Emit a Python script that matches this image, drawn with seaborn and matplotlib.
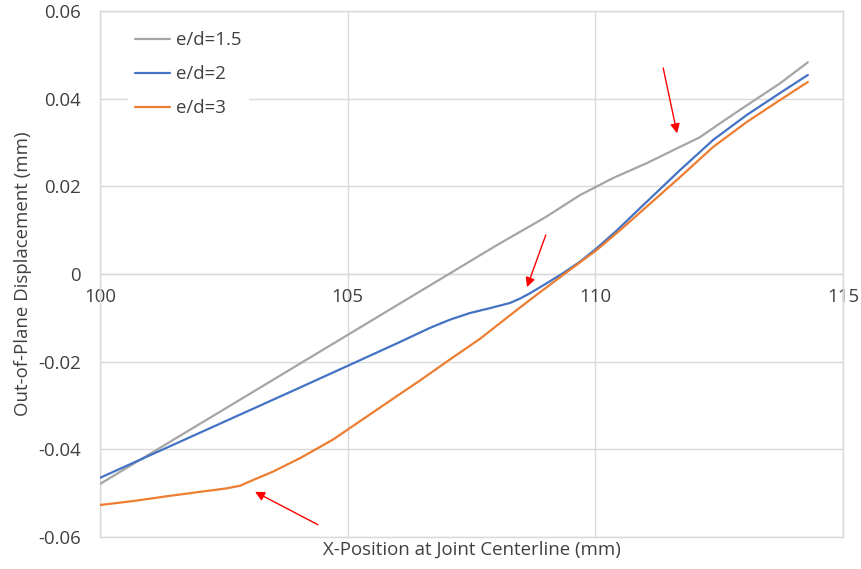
import matplotlib
matplotlib.use("Agg")
import matplotlib.pyplot as plt
from matplotlib.lines import Line2D
import seaborn as sns
import pandas as pd

# Out-of-plane displacement along the joint centerline for three edge distances
x_ed15 = [100, 102, 104, 106, 108, 109, 109.69, 110.36, 111.04, 111.71, 112.11,
          112.52, 113.06, 113.73, 114.29]
y_ed15 = [-0.0479, -0.0343, -0.0207, -0.0071, 0.0065, 0.0130, 0.0180, 0.0219,
          0.0253, 0.0290, 0.0312, 0.0344, 0.0385, 0.0435, 0.0483]

x_ed2 = [100, 102, 104, 106, 106.66, 107.07, 107.47, 107.87, 108.28, 108.48,
         108.68, 109.02, 109.35, 109.69, 110.03, 110.44, 110.90, 111.71, 112.38,
         113.06, 113.73, 114.29]
y_ed2 = [-0.0465, -0.0363, -0.0261, -0.0158, -0.0123, -0.0104, -0.0089, -0.0078,
         -0.0066, -0.0056, -0.0044, -0.0021, 0.0002, 0.0028, 0.0059, 0.0100,
         0.0150, 0.0237, 0.0306, 0.0363, 0.0413, 0.0454]

x_ed3 = [100, 100.67, 101.35, 102.02, 102.56, 102.83, 103.09, 103.49, 104.04,
         104.70, 105, 106, 106.46, 107, 107.67, 108.2, 108.68, 109.35, 110.03,
         110.5, 110.96, 111.71, 112.38, 113.06, 113.73, 114.29]
y_ed3 = [-0.0527, -0.0518, -0.0507, -0.0497, -0.0489, -0.0483, -0.0470, -0.0451,
         -0.0420, -0.0378, -0.0355, -0.0278, -0.0243, -0.0200, -0.0148, -0.0101,
         -0.0059, -0.0002, 0.0055, 0.0100, 0.0146, 0.0221, 0.0290, 0.0347,
         0.0397, 0.0438]

series_names = ["e/d=1.5", "e/d=2", "e/d=3"]
series_colors = ["#A5A5A5", "#4472C4", "#ED7D31"]

x_ticks = [100, 105, 110, 115]
y_ticks = [-0.06, -0.04, -0.02, 0, 0.02, 0.04, 0.06]
y_tick_labels = ["-0.06", "-0.04", "-0.02", "0", "0.02", "0.04", "0.06"]

# Callout arrows (tail -> tip) marking the change in slope of each curve
callouts = [((104.40, -0.0572), (103.13, -0.0497)),
            ((109.00, 0.0089), (108.62, -0.0030)),
            ((111.37, 0.0470), (111.65, 0.0321))]

frames = []
for name, xs, ys in zip(series_names, [x_ed15, x_ed2, x_ed3], [y_ed15, y_ed2, y_ed3]):
    frames.append(pd.DataFrame({"x": xs, "y": ys, "series": name}))
df = pd.concat(frames, ignore_index=True)

sns.set_theme(style="white")
plt.rcParams["font.family"] = ["Open Sans", "DejaVu Sans"]
text_color = "#404040"
grid_color = "#d9d9d9"
fs = 13.4

fig = plt.figure(figsize=(8.61, 5.69), dpi=100)
ax = fig.add_axes([100 / 861, 32 / 569, 743 / 861, 526 / 569])

sns.lineplot(data=df, x="x", y="y", hue="series", hue_order=series_names,
             palette=series_colors, linewidth=1.6, sort=False, legend=False,
             estimator=None, ax=ax, zorder=3)
for line in ax.get_lines():
    line.set_solid_joinstyle("round")
    line.set_solid_capstyle("round")

ax.set_xlim(100, 115)
ax.set_ylim(-0.06, 0.06)
ax.set_xticks(x_ticks)
ax.set_yticks(y_ticks)
ax.set_yticklabels(y_tick_labels)

ax.grid(True, color=grid_color, linewidth=1.0)
ax.set_axisbelow(True)
for side in ["left", "right", "top"]:
    ax.spines[side].set_color(grid_color)
    ax.spines[side].set_linewidth(1.0)
ax.spines["bottom"].set_position(("data", 0))
ax.spines["bottom"].set_color(grid_color)
ax.spines["bottom"].set_linewidth(1.0)
ax.axhline(-0.06, color=grid_color, linewidth=1.0, clip_on=False, zorder=0)

ax.tick_params(axis="x", length=0, pad=10, labelsize=fs, labelcolor=text_color)
ax.tick_params(axis="y", length=0, pad=14, labelsize=fs, labelcolor=text_color)

ax.set_xlabel("X-Position at Joint Centerline (mm)", fontsize=fs, color=text_color)
ax.set_ylabel("Out-of-Plane Displacement (mm)", fontsize=fs, color=text_color)
ax.xaxis.set_label_coords(0.5, -0.008)
ax.yaxis.set_label_coords(-0.0915, 0.5)

for (tail, tip) in callouts:
    ax.annotate("", xy=tip, xytext=tail,
                arrowprops=dict(arrowstyle="-|>", color="#FF0000", lw=1.0,
                                mutation_scale=14, shrinkA=0, shrinkB=0),
                zorder=4)

handles = [Line2D([], [], color=c, linewidth=1.6) for c in series_colors]
leg = ax.legend(handles, series_names, loc="upper left",
                bbox_to_anchor=(128 / 861, 1 - 24 / 569),
                bbox_transform=fig.transFigure, borderaxespad=0, borderpad=0.4,
                frameon=True, fancybox=False, facecolor="white", edgecolor="none",
                framealpha=1, fontsize=fs, handlelength=1.85, handletextpad=0.35,
                labelspacing=0.85, labelcolor=text_color)
leg.set_zorder(5)

fig.savefig("out.png", dpi=100, facecolor="white")
